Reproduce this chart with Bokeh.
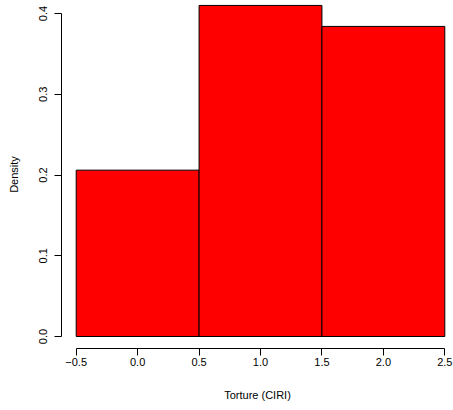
from bokeh.plotting import figure
from bokeh.models import ColumnDataSource, FixedTicker, Range1d
from bokeh.embed import file_html
from bokeh.resources import INLINE

# Histogram of the CIRI torture score (density scale)
bin_edges = [-0.5, 0.5, 1.5, 2.5]
density = [0.206, 0.410, 0.384]

x_ticks = [-0.5, 0.0, 0.5, 1.0, 1.5, 2.0, 2.5]
x_tick_labels = ["\u22120.5", "0.0", "0.5", "1.0", "1.5", "2.0", "2.5"]
y_ticks = [0.0, 0.1, 0.2, 0.3, 0.4]
y_tick_labels = ["0.0", "0.1", "0.2", "0.3", "0.4"]

src = ColumnDataSource(dict(
    left=bin_edges[:-1],
    right=bin_edges[1:],
    top=density,
    bottom=[0.0] * len(density),
))

FONT = "Liberation Sans"

p = figure(
    width=453, height=410,
    x_range=Range1d(-0.6196, 2.5708),
    y_range=Range1d(-0.01486, 0.4161),
    output_backend="svg",
    toolbar_location=None,
    min_border_left=61, min_border_right=0,
    min_border_top=0, min_border_bottom=62,
)
p.outline_line_color = None
p.xgrid.visible = False
p.ygrid.visible = False
p.background_fill_color = "white"
p.border_fill_color = "white"

p.quad(left="left", right="right", top="top", bottom="bottom", source=src,
       fill_color="#ff0000", line_color="black", line_width=1)

# x axis
xa = p.xaxis[0]
xa.ticker = FixedTicker(ticks=x_ticks)
xa.major_label_overrides = {t: l for t, l in zip(x_ticks, x_tick_labels)}
xa.bounds = (-0.5, 2.5)
xa.axis_label = "Torture (CIRI)"

# y axis
ya = p.yaxis[0]
ya.ticker = FixedTicker(ticks=y_ticks)
ya.major_label_overrides = {t: l for t, l in zip(y_ticks, y_tick_labels)}
ya.bounds = (0.0, 0.4)
ya.axis_label = "Density"
ya.major_label_orientation = "vertical"

for ax in (xa, ya):
    ax.axis_line_color = "black"
    ax.major_tick_line_color = "black"
    ax.minor_tick_line_color = None
    ax.major_tick_out = 7
    ax.major_tick_in = 0
    ax.major_label_text_font = FONT
    ax.major_label_text_font_size = "11px"
    ax.major_label_text_color = "black"
    ax.axis_label_text_font = FONT
    ax.axis_label_text_font_size = "11px"
    ax.axis_label_text_font_style = "normal"
    ax.axis_label_text_color = "black"

xa.major_label_standoff = 2
xa.axis_label_standoff = 20
ya.major_label_standoff = 7
ya.axis_label_standoff = 17

open("out.html", "w").write(file_html(p, INLINE))
